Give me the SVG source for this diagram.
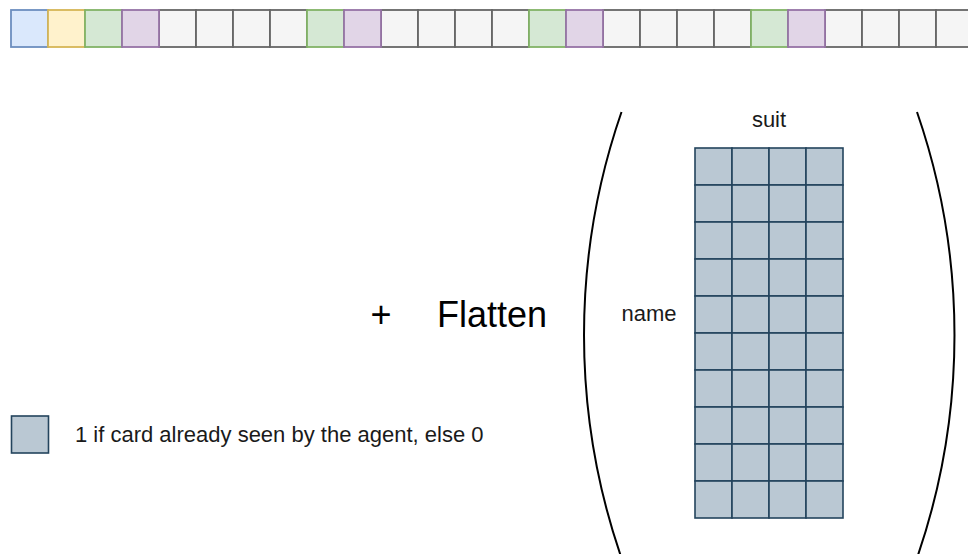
<svg xmlns="http://www.w3.org/2000/svg" width="968" height="554" viewBox="0 0 968 554">
  <style>
    .cell { stroke-width: 1.8; }
    .blue { fill: #dae8fc; stroke: #6c8ebf; }
    .yellow { fill: #fff2cc; stroke: #d6b656; }
    .green { fill: #d5e8d4; stroke: #82b366; }
    .purple { fill: #e1d5e7; stroke: #9673a6; }
    .grey { fill: #f5f5f5; stroke: #666666; }
    .seen { fill: #bac8d3; stroke: #23445d; stroke-width: 1.6; }
    .lbl { font-family: "Liberation Sans", Arial, sans-serif; fill: #1a1a1a; }
    .big { font-size: 36px; fill: #000; }
    .small { font-size: 22px; }
    .paren { fill: none; stroke: #000; stroke-width: 2; }
  </style>

  <!-- flattened feature vector -->
  <g id="feature-row">
    <rect class="cell grey" x="159" y="10" width="37" height="37"/>
    <rect class="cell grey" x="196" y="10" width="37" height="37"/>
    <rect class="cell grey" x="233" y="10" width="37" height="37"/>
    <rect class="cell grey" x="270" y="10" width="37" height="37"/>
    <rect class="cell grey" x="381" y="10" width="37" height="37"/>
    <rect class="cell grey" x="418" y="10" width="37" height="37"/>
    <rect class="cell grey" x="455" y="10" width="37" height="37"/>
    <rect class="cell grey" x="492" y="10" width="37" height="37"/>
    <rect class="cell grey" x="603" y="10" width="37" height="37"/>
    <rect class="cell grey" x="640" y="10" width="37" height="37"/>
    <rect class="cell grey" x="677" y="10" width="37" height="37"/>
    <rect class="cell grey" x="714" y="10" width="37" height="37"/>
    <rect class="cell grey" x="825" y="10" width="37" height="37"/>
    <rect class="cell grey" x="862" y="10" width="37" height="37"/>
    <rect class="cell grey" x="899" y="10" width="37" height="37"/>
    <rect class="cell grey" x="936" y="10" width="37" height="37"/>
    <rect class="cell blue" x="11" y="10" width="37" height="37"/>
    <rect class="cell yellow" x="48" y="10" width="37" height="37"/>
    <rect class="cell green" x="85" y="10" width="37" height="37"/>
    <rect class="cell purple" x="122" y="10" width="37" height="37"/>
    <rect class="cell green" x="307" y="10" width="37" height="37"/>
    <rect class="cell purple" x="344" y="10" width="37" height="37"/>
    <rect class="cell green" x="529" y="10" width="37" height="37"/>
    <rect class="cell purple" x="566" y="10" width="37" height="37"/>
    <rect class="cell green" x="751" y="10" width="37" height="37"/>
    <rect class="cell purple" x="788" y="10" width="37" height="37"/>
  </g>

  <!-- operator labels -->
  <g id="plus">
    <text class="lbl big" x="381" y="327" text-anchor="middle">+</text>
  </g>
  <g id="flatten">
    <text class="lbl big" x="492" y="327" text-anchor="middle">Flatten</text>
  </g>

  <!-- brackets around the seen-cards matrix -->
  <g id="brackets">
    <path class="paren" d="M 621.5 112 A 682 682 0 0 0 621.5 558"/>
    <path class="paren" d="M 917 112 A 682 682 0 0 1 917 558"/>
  </g>

  <!-- axis labels -->
  <g id="suit-label">
    <text class="lbl small" x="769" y="127" text-anchor="middle">suit</text>
  </g>
  <g id="name-label">
    <text class="lbl small" x="649" y="321" text-anchor="middle">name</text>
  </g>

  <!-- 10 x 4 matrix of seen cards -->
  <g id="seen-matrix">
    <defs>
      <g id="matrix-row">
        <rect class="seen" x="695" y="0" width="37" height="37"/>
        <rect class="seen" x="732" y="0" width="37" height="37"/>
        <rect class="seen" x="769" y="0" width="37" height="37"/>
        <rect class="seen" x="806" y="0" width="37" height="37"/>
      </g>
    </defs>
    <use href="#matrix-row" y="148"/>
    <use href="#matrix-row" y="185"/>
    <use href="#matrix-row" y="222"/>
    <use href="#matrix-row" y="259"/>
    <use href="#matrix-row" y="296"/>
    <use href="#matrix-row" y="333"/>
    <use href="#matrix-row" y="370"/>
    <use href="#matrix-row" y="407"/>
    <use href="#matrix-row" y="444"/>
    <use href="#matrix-row" y="481"/>
  </g>

  <!-- legend -->
  <g id="legend">
    <rect class="seen" x="11.5" y="416" width="37" height="37"/>
    <text class="lbl small" x="75" y="442">1 if card already seen by the agent, else 0</text>
  </g>
</svg>
